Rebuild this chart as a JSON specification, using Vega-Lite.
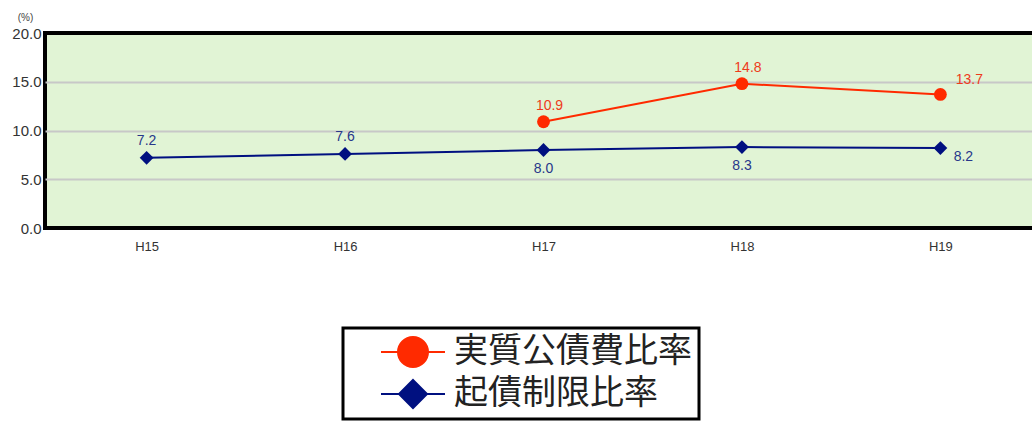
{
  "$schema": "https://vega.github.io/schema/vega-lite/v6.json",
  "width": 997,
  "height": 195,
  "autosize": {"type": "none"},
  "padding": {"left": 45, "top": 33, "right": 0, "bottom": 203},
  "background": "white",
  "config": {
    "view": {"fill": "#e1f4d5", "stroke": "black", "strokeWidth": 4},
    "font": "Liberation Sans"
  },
  "data": {
    "values": [
      {"year": "H15", "series": "起債制限比率", "value": 7.2},
      {"year": "H16", "series": "起債制限比率", "value": 7.6},
      {"year": "H17", "series": "起債制限比率", "value": 8.0},
      {"year": "H18", "series": "起債制限比率", "value": 8.3},
      {"year": "H19", "series": "起債制限比率", "value": 8.2},
      {"year": "H17", "series": "実質公債費比率", "value": 10.9},
      {"year": "H18", "series": "実質公債費比率", "value": 14.8},
      {"year": "H19", "series": "実質公債費比率", "value": 13.7}
    ]
  },
  "encoding": {
    "x": {
      "field": "year", "type": "ordinal",
      "scale": {"type": "point", "padding": 0.512},
      "axis": {"title": null, "labelAngle": 0, "ticks": false, "domain": false, "grid": false, "labelFontSize": 13, "labelColor": "#333333", "labelPadding": 12}
    },
    "y": {
      "field": "value", "type": "quantitative",
      "scale": {"domain": [0, 20]},
      "axis": {"values": [0, 5, 10, 15, 20], "format": ".1f", "ticks": false, "domain": false,
        "gridColor": {"condition": {"test": "datum.value === 0 || datum.value === 20", "value": "transparent"}, "value": "#c8c8c8"},
        "gridWidth": 2, "labelFontSize": 15, "labelColor": "#333333", "labelPadding": 4,
        "title": "(%)", "titleAngle": 0, "titleFontSize": 10, "titleFontWeight": "normal", "titleColor": "#444444", "titleX": -20, "titleY": -16, "titleAlign": "center", "titleBaseline": "middle"}
    },
    "color": {
      "field": "series", "type": "nominal",
      "scale": {"domain": ["実質公債費比率", "起債制限比率"], "range": ["#ff2a00", "#001080"]},
      "legend": {
        "title": null, "orient": "none", "legendX": 298, "legendY": 295,
        "labelFont": "Noto Sans CJK JP", "labelFontSize": 34, "labelColor": "#222222", "labelLimit": 500,
        "fillColor": "white", "strokeColor": "black", "padding": 7,
        "symbolSize": 400, "symbolOffset": 46, "labelOffset": 24, "rowPadding": 5,
        "encode": {
          "legend": {"update": {"strokeWidth": {"value": 3}}},
          "symbols": {
            "update": {
              "shape": {"signal": "datum.value === '実質公債費比率' ? 'M-3.2,0H-1.5M1.5,0H3.2M-1.5,0A1.5,1.5,0,1,1,1.5,0A1.5,1.5,0,1,1,-1.5,0Z' : 'M-3.2,0H-1.4M1.4,0H3.2M0,-1.4L1.4,0L0,1.4L-1.4,0Z'"},
              "fill": {"signal": "datum.value === '実質公債費比率' ? '#ff2a00' : '#001080'"},
              "stroke": {"signal": "datum.value === '実質公債費比率' ? '#ff2a00' : '#001080'"},
              "strokeWidth": {"value": 2},
              "opacity": {"value": 1}
            }
          }
        }
      }
    }
  },
  "layer": [
    {"mark": {"type": "line", "strokeWidth": 2}},
    {
      "transform": [{"filter": "datum.series === '実質公債費比率'"}],
      "mark": {"type": "point", "shape": "circle", "filled": true, "opacity": 1, "size": 165}
    },
    {
      "transform": [{"filter": "datum.series === '起債制限比率'"}],
      "mark": {"type": "point", "shape": "diamond", "filled": true, "opacity": 1, "size": 190}
    },
    {
      "transform": [{"filter": "datum.series === '実質公債費比率' && datum.year !== 'H19'"}],
      "mark": {"type": "text", "fontSize": 14, "dx": 6, "dy": -16, "baseline": "middle"},
      "encoding": {"text": {"field": "value", "type": "quantitative", "format": ".1f"}, "color": {"value": "#ee3b1b"}}
    },
    {
      "transform": [{"filter": "datum.series === '実質公債費比率' && datum.year === 'H19'"}],
      "mark": {"type": "text", "fontSize": 14, "dx": 29, "dy": -14, "baseline": "middle"},
      "encoding": {"text": {"field": "value", "type": "quantitative", "format": ".1f"}, "color": {"value": "#ee3b1b"}}
    },
    {
      "transform": [{"filter": "datum.series === '起債制限比率' && (datum.year === 'H15' || datum.year === 'H16')"}],
      "mark": {"type": "text", "fontSize": 14, "dy": -17, "baseline": "middle"},
      "encoding": {"text": {"field": "value", "type": "quantitative", "format": ".1f"}, "color": {"value": "#28378a"}}
    },
    {
      "transform": [{"filter": "datum.series === '起債制限比率' && (datum.year === 'H17' || datum.year === 'H18')"}],
      "mark": {"type": "text", "fontSize": 14, "dy": 19, "baseline": "middle"},
      "encoding": {"text": {"field": "value", "type": "quantitative", "format": ".1f"}, "color": {"value": "#28378a"}}
    },
    {
      "transform": [{"filter": "datum.series === '起債制限比率' && datum.year === 'H19'"}],
      "mark": {"type": "text", "fontSize": 14, "dx": 23, "dy": 9, "baseline": "middle"},
      "encoding": {"text": {"field": "value", "type": "quantitative", "format": ".1f"}, "color": {"value": "#28378a"}}
    }
  ]
}
